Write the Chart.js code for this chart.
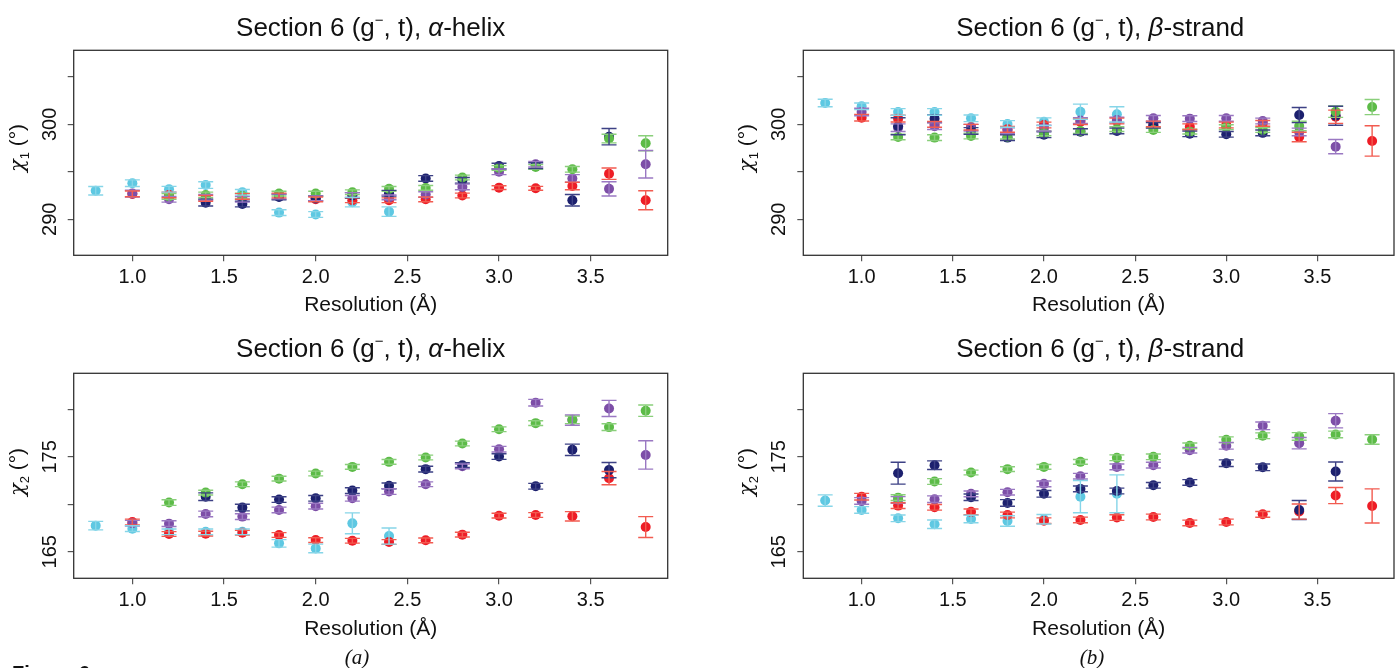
<!DOCTYPE html>
<html>
<head>
<meta charset="utf-8">
<script src="https://cdn.jsdelivr.net/npm/chart.js@4.4.1/dist/chart.umd.min.js"></script>
<style>
  html, body { margin:0; padding:0; background:#fff; }
  body { width:1399px; height:668px; position:relative; overflow:hidden; font-family:'Liberation Sans', Arial, sans-serif; color:#111; }
  .panel { position:absolute; }
  .ptitle { position:absolute; text-align:center; font-size:26px; line-height:30px; white-space:nowrap; }
  .ptitle sup { font-size:15px; vertical-align:0; position:relative; top:-11px; }
  .ylab { position:absolute; font-size:21px; white-space:nowrap; transform:translate(-50%,-50%) rotate(-90deg); line-height:24px; }
  .ylab i { font-family:'DejaVu Serif', 'Liberation Serif', serif; font-size:21px; }
  .ylab sub { font-size:13px; vertical-align:0; position:relative; top:5px; }
  .cap { position:absolute; font-family:'Liberation Serif', 'Times New Roman', serif; font-size:21px; line-height:24px; transform:translate(-50%,-50%); }
  .fig { position:absolute; left:12px; top:663px; font-weight:bold; font-size:20px; line-height:20px; }
</style>
</head>
<body>
<script>
// ---------------- data ----------------
const resolution = [0.8, 1.0, 1.2, 1.4, 1.6, 1.8, 2.0, 2.2, 2.4, 2.6, 2.8, 3.0, 3.2, 3.4, 3.6, 3.8];
const xTickValues = [1.0, 1.5, 2.0, 2.5, 3.0, 3.5];
const chi1TickValues = [290, 295, 300, 305];
const chi1TickLabels = [290, 300];
const chi2TickValues = [165, 170, 175, 180];
const chi2TickLabels = [165, 175];
const seriesNames = ['green', 'navy', 'purple', 'red', 'cyan'];

// alpha-helix, chi1
const helixChi1Cyan   = [293.0, 293.8, 293.16, 293.6, 292.84, 290.7, 290.5, 291.8, 290.8, null, null, null, null, null, null, null];
const helixChi1Red    = [null, 292.67, 292.56, 292.2, 292.4, 292.5, 292.1, 292.0, 292.0, 292.1, 292.5, 293.33, 293.26, 293.5, 294.8, 292.0];
const helixChi1Purple = [null, 292.7, 292.1, 292.3, 292.1, 292.4, 292.2, 292.55, 292.3, 292.6, 293.4, 295.0, 295.8, 294.3, 293.2, 295.8];
const helixChi1Navy   = [null, null, null, 291.75, 291.6, 292.35, 292.2, 292.5, 292.74, 294.3, 294.1, 295.6, 295.65, 292.0, 298.7, null];
const helixChi1Green  = [null, null, 292.4, 292.56, 292.45, 292.7, 292.7, 292.84, 293.2, 293.3, 294.4, 295.4, 295.5, 295.26, 298.5, 298.0];
const helixChi1CyanErr   = [0.45, 0.35, 0.3, 0.35, 0.3, 0.3, 0.3, 0.5, 0.5, null, null, null, null, null, null, null];
const helixChi1RedErr    = [null, 0.3, 0.3, 0.3, 0.3, 0.25, 0.25, 0.25, 0.25, 0.25, 0.25, 0.2, 0.2, 0.4, 0.6, 1.0];
const helixChi1PurpleErr = [null, 0.35, 0.3, 0.3, 0.3, 0.25, 0.25, 0.25, 0.25, 0.3, 0.3, 0.3, 0.3, 0.4, 0.75, 1.45];
const helixChi1NavyErr   = [null, null, null, 0.35, 0.3, 0.3, 0.25, 0.3, 0.3, 0.3, 0.3, 0.3, 0.3, 0.6, 0.86, null];
const helixChi1GreenErr  = [null, null, 0.3, 0.3, 0.3, 0.25, 0.25, 0.25, 0.25, 0.25, 0.25, 0.25, 0.25, 0.3, 0.45, 0.8];

// beta-strand, chi1
const strandChi1Cyan   = [302.25, 301.9, 301.3, 301.3, 300.63, 300.04, 300.28, 301.33, 301.05, null, null, null, null, null, null, null];
const strandChi1Red    = [null, 300.7, 300.6, 300.0, 299.7, 299.47, 299.93, 300.28, 300.35, 300.04, 299.75, 299.93, 300.1, 298.67, 300.8, 298.25];
const strandChi1Purple = [null, 301.3, 299.65, 299.8, 299.65, 299.33, 299.6, 300.4, 300.45, 300.63, 300.6, 300.63, 300.35, 299.2, 297.65, null];
const strandChi1Navy   = [null, null, 299.8, 300.6, 299.3, 298.6, 298.9, 299.23, 299.3, 299.9, 299.0, 298.95, 299.1, 300.98, 300.9, null];
const strandChi1Green  = [null, null, 298.67, 298.6, 298.77, 298.7, 299.05, 299.3, 299.5, 299.4, 299.23, 299.7, 299.4, 299.82, 301.33, 301.82];
const strandChi1CyanErr   = [0.4, 0.35, 0.35, 0.35, 0.35, 0.35, 0.4, 0.8, 0.8, null, null, null, null, null, null, null];
const strandChi1RedErr    = [null, 0.35, 0.35, 0.3, 0.3, 0.3, 0.3, 0.3, 0.3, 0.3, 0.3, 0.3, 0.3, 0.5, 0.7, 1.6];
const strandChi1PurpleErr = [null, 0.4, 0.4, 0.35, 0.35, 0.3, 0.3, 0.3, 0.3, 0.3, 0.3, 0.3, 0.3, 0.4, 0.75, null];
const strandChi1NavyErr   = [null, null, 0.9, 0.4, 0.35, 0.3, 0.3, 0.3, 0.3, 0.3, 0.3, 0.3, 0.3, 0.8, 1.0, null];
const strandChi1GreenErr  = [null, null, 0.3, 0.3, 0.3, 0.25, 0.25, 0.25, 0.25, 0.25, 0.25, 0.25, 0.25, 0.5, 0.6, 0.8];

// alpha-helix, chi2
const helixChi2Cyan   = [167.75, 167.43, 167.1, 167.1, 167.1, 165.88, 165.35, 167.99, 166.65, null, null, null, null, null, null, null];
const helixChi2Red    = [null, 168.13, 166.87, 166.9, 167.0, 166.76, 166.23, 166.16, 166.02, 166.2, 166.8, 168.8, 168.87, 168.73, 172.75, 167.6];
const helixChi2Purple = [null, 168.0, 167.96, 168.98, 168.7, 169.4, 169.8, 170.63, 171.34, 172.11, 174.0, 175.8, 180.7, 178.87, 180.1, 175.2];
const helixChi2Navy   = [null, null, null, 170.8, 169.65, 170.5, 170.63, 171.44, 171.94, 173.7, 174.12, 175.03, 171.9, 175.74, 173.6, null];
const helixChi2Green  = [null, null, 170.18, 171.23, 172.11, 172.7, 173.24, 173.94, 174.47, 174.93, 176.4, 177.9, 178.55, 178.9, 178.13, 179.86];
const helixChi2CyanErr   = [0.45, 0.3, 0.3, 0.3, 0.3, 0.4, 0.45, 1.1, 0.85, null, null, null, null, null, null, null];
const helixChi2RedErr    = [null, 0.3, 0.25, 0.25, 0.25, 0.25, 0.25, 0.25, 0.25, 0.25, 0.25, 0.25, 0.25, 0.5, 0.7, 1.1];
const helixChi2PurpleErr = [null, 0.3, 0.3, 0.3, 0.3, 0.3, 0.3, 0.3, 0.3, 0.25, 0.25, 0.3, 0.35, 0.55, 0.85, 1.5];
const helixChi2NavyErr   = [null, null, null, 0.4, 0.35, 0.3, 0.3, 0.3, 0.3, 0.3, 0.25, 0.3, 0.3, 0.6, 0.8, null];
const helixChi2GreenErr  = [null, null, 0.3, 0.25, 0.25, 0.25, 0.25, 0.25, 0.25, 0.25, 0.25, 0.25, 0.25, 0.4, 0.35, 0.6];

// beta-strand, chi2
const strandChi2Cyan   = [170.39, 169.4, 168.52, 167.89, 168.45, 168.24, 168.42, 170.8, 171.1, null, null, null, null, null, null, null];
const strandChi2Red    = [null, 170.8, 169.86, 169.68, 169.2, 168.87, 168.27, 168.35, 168.6, 168.66, 168.03, 168.13, 168.94, 169.23, 170.92, 169.82];
const strandChi2Purple = [null, 170.35, 170.46, 170.53, 171.1, 171.27, 172.15, 172.96, 173.94, 174.12, 175.7, 176.16, 178.27, 176.44, 178.8, null];
const strandChi2Navy   = [null, null, 173.27, 174.12, 170.74, 170.14, 171.1, 171.62, 171.4, 172.0, 172.3, 174.33, 173.9, 169.4, 173.45, null];
const strandChi2Green  = [null, null, 170.7, 172.4, 173.35, 173.7, 173.94, 174.47, 174.9, 175.0, 176.16, 176.8, 177.22, 177.15, 177.36, 176.83];
const strandChi2CyanErr   = [0.6, 0.35, 0.35, 0.45, 0.4, 0.55, 0.5, 1.7, 2.0, null, null, null, null, null, null, null];
const strandChi2RedErr    = [null, 0.35, 0.3, 0.3, 0.3, 0.3, 0.3, 0.3, 0.3, 0.3, 0.3, 0.3, 0.3, 0.8, 0.85, 1.8];
const strandChi2PurpleErr = [null, 0.35, 0.35, 0.35, 0.3, 0.3, 0.3, 0.3, 0.3, 0.3, 0.3, 0.35, 0.4, 0.6, 0.75, null];
const strandChi2NavyErr   = [null, null, 1.15, 0.45, 0.35, 0.35, 0.35, 0.3, 0.3, 0.3, 0.3, 0.35, 0.35, 1.0, 1.0, null];
const strandChi2GreenErr  = [null, null, 0.3, 0.3, 0.25, 0.25, 0.25, 0.25, 0.3, 0.3, 0.3, 0.3, 0.3, 0.4, 0.35, 0.5];

// ---------------- styling ----------------
const FONT = "'Liberation Sans', Arial, sans-serif";
const pointColors = { green:'#5CBB47', navy:'#1C206E', purple:'#7D4EA7', red:'#EE1D26', cyan:'#5EC8E2' };
const barColors   = { green:'#8ACF7B', navy:'#3D4185', purple:'#9A78C2', red:'#F25B50', cyan:'#86D5E8' };

const panels = [
  { id:'tl', left:0,   top:0,   w:700, h:330, pad:{top:50.3, right:32.3}, L:73.7,  B:74.7, titleB:12,
    ymin:286.2, ymax:307.8, yticks:chi1TickValues, ylabels:chi1TickLabels,
    series:{ green:[helixChi1Green,helixChi1GreenErr], navy:[helixChi1Navy,helixChi1NavyErr], purple:[helixChi1Purple,helixChi1PurpleErr], red:[helixChi1Red,helixChi1RedErr], cyan:[helixChi1Cyan,helixChi1CyanErr] } },
  { id:'tr', left:700, top:0,   w:699, h:330, pad:{top:50.3, right:1.7},  L:103.3, B:74.7, titleB:12,
    ymin:286.2, ymax:307.8, yticks:chi1TickValues, ylabels:chi1TickLabels,
    series:{ green:[strandChi1Green,strandChi1GreenErr], navy:[strandChi1Navy,strandChi1NavyErr], purple:[strandChi1Purple,strandChi1PurpleErr], red:[strandChi1Red,strandChi1RedErr], cyan:[strandChi1Cyan,strandChi1CyanErr] } },
  { id:'bl', left:0,   top:330, w:700, h:338, pad:{top:43.3, right:32.3}, L:73.7,  B:89.7, titleB:26.5,
    ymin:162.2, ymax:183.8, yticks:chi2TickValues, ylabels:chi2TickLabels,
    series:{ green:[helixChi2Green,helixChi2GreenErr], navy:[helixChi2Navy,helixChi2NavyErr], purple:[helixChi2Purple,helixChi2PurpleErr], red:[helixChi2Red,helixChi2RedErr], cyan:[helixChi2Cyan,helixChi2CyanErr] } },
  { id:'br', left:700, top:330, w:699, h:338, pad:{top:43.3, right:1.7},  L:103.3, B:89.7, titleB:26.5,
    ymin:162.2, ymax:183.8, yticks:chi2TickValues, ylabels:chi2TickLabels,
    series:{ green:[strandChi2Green,strandChi2GreenErr], navy:[strandChi2Navy,strandChi2NavyErr], purple:[strandChi2Purple,strandChi2PurpleErr], red:[strandChi2Red,strandChi2RedErr], cyan:[strandChi2Cyan,strandChi2CyanErr] } }
];

// error bars drawn through the scales
const errorBarPlugin = {
  id:'errorBars',
  afterDatasetsDraw(chart) {
    const ctx = chart.ctx, xs = chart.scales.x, ys = chart.scales.y;
    ctx.save();
    chart.data.datasets.forEach(ds => {
      ctx.strokeStyle = ds.barColor;
      ctx.lineWidth = 1.4;
      ds.data.forEach((p, i) => {
        const e = ds.errors[i];
        if (p.y == null || e == null) return;
        const px = xs.getPixelForValue(p.x);
        const y1 = ys.getPixelForValue(p.y - e), y2 = ys.getPixelForValue(p.y + e);
        ctx.beginPath();
        ctx.moveTo(px, y1); ctx.lineTo(px, y2);
        ctx.moveTo(px - 7.5, y1); ctx.lineTo(px + 7.5, y1);
        ctx.moveTo(px - 7.5, y2); ctx.lineTo(px + 7.5, y2);
        ctx.stroke();
      });
    });
    ctx.restore();
  }
};

// box + rotated y tick labels
const framePlugin = {
  id:'frame',
  afterDraw(chart, args, opts) {
    const {ctx, chartArea:a} = chart;
    ctx.save();
    ctx.strokeStyle = '#333';
    ctx.lineWidth = 1.3;
    ctx.strokeRect(a.left, a.top, a.right - a.left, a.bottom - a.top);
    ctx.fillStyle = '#111';
    ctx.font = '20px ' + FONT;
    ctx.textAlign = 'center';
    ctx.textBaseline = 'middle';
    opts.labels.forEach(v => {
      const py = chart.scales.y.getPixelForValue(v);
      ctx.save();
      ctx.translate(a.left - 23.5, py);
      ctx.rotate(-Math.PI / 2);
      ctx.fillText(String(v), 0, 0);
      ctx.restore();
    });
    ctx.restore();
  }
};

panels.forEach(p => {
  const div = document.createElement('div');
  div.className = 'panel';
  div.style.cssText = `left:${p.left}px;top:${p.top}px;width:${p.w}px;height:${p.h}px;`;
  const cv = document.createElement('canvas');
  div.appendChild(cv);
  document.body.appendChild(div);

  const datasets = seriesNames.map(name => ({
    label: name,
    data: resolution.map((x, i) => ({ x: x, y: p.series[name][0][i] })),
    errors: p.series[name][1],
    barColor: barColors[name],
    backgroundColor: pointColors[name],
    borderWidth: 0,
    pointRadius: 5,
    pointHoverRadius: 5,
    showLine: false
  }));

  const gridOpts = { display:true, drawOnChartArea:false, drawTicks:true, tickLength:6, color:'#555', lineWidth:1.2 };

  new Chart(cv, {
    type:'scatter',
    data:{ datasets },
    plugins:[errorBarPlugin, framePlugin],
    options:{
      responsive:true, maintainAspectRatio:false, animation:false,
      layout:{ padding:{ top:p.pad.top, right:p.pad.right, left:0, bottom:0 } },
      plugins:{ legend:{display:false}, tooltip:{enabled:false}, frame:{ labels:p.ylabels } },
      scales:{
        x:{
          type:'linear', min:0.68, max:3.92,
          afterBuildTicks: s => { s.ticks = xTickValues.map(v => ({value:v})); },
          afterFit: s => { s.height = p.B; },
          grid: gridOpts, border:{display:false},
          ticks:{ font:{size:20, family:FONT}, color:'#111', padding:4, maxRotation:0, minRotation:0, callback: v => Number(v).toFixed(1) },
          title:{ display:true, text:'Resolution (Å)', font:{size:21, family:FONT}, color:'#111', padding:{top:0, bottom:p.titleB} }
        },
        y:{
          type:'linear', min:p.ymin, max:p.ymax,
          afterBuildTicks: s => { s.ticks = p.yticks.map(v => ({value:v})); },
          afterFit: s => { s.width = p.L; },
          grid: gridOpts, border:{display:false},
          ticks:{ display:false }
        }
      }
    }
  });
});

// HTML texts: panel titles, y-axis titles, captions
const titles = [
  { cx:370.7,  cy:26.7,  html:'Section 6 (g<sup>−</sup>, t), <i>α</i>-helix' },
  { cx:1100.3, cy:26.7,  html:'Section 6 (g<sup>−</sup>, t), <i>β</i>-strand' },
  { cx:370.7,  cy:348.3, html:'Section 6 (g<sup>−</sup>, t), <i>α</i>-helix' },
  { cx:1100.3, cy:348.3, html:'Section 6 (g<sup>−</sup>, t), <i>β</i>-strand' }
];
titles.forEach(t => {
  const d = document.createElement('div');
  d.className = 'ptitle';
  d.style.left = (t.cx - 300) + 'px';
  d.style.width = '600px';
  d.style.top = (t.cy - 15) + 'px';
  d.innerHTML = t.html;
  document.body.appendChild(d);
});
const ylabs = [
  { cx:18,  cy:148, html:'<i>χ</i><sub>1</sub> (°)' },
  { cx:747, cy:148, html:'<i>χ</i><sub>1</sub> (°)' },
  { cx:18,  cy:472, html:'<i>χ</i><sub>2</sub> (°)' },
  { cx:747, cy:472, html:'<i>χ</i><sub>2</sub> (°)' }
];
ylabs.forEach(t => {
  const d = document.createElement('div');
  d.className = 'ylab';
  d.style.left = t.cx + 'px';
  d.style.top = t.cy + 'px';
  d.innerHTML = t.html;
  document.body.appendChild(d);
});
[{cx:357, cy:657, html:'<i>(a)</i>'}, {cx:1092, cy:657, html:'<i>(b)</i>'}].forEach(t => {
  const d = document.createElement('div');
  d.className = 'cap';
  d.style.left = t.cx + 'px';
  d.style.top = t.cy + 'px';
  d.innerHTML = t.html;
  document.body.appendChild(d);
});
const fig = document.createElement('div');
fig.className = 'fig';
fig.textContent = 'Figure 6';
document.body.appendChild(fig);
</script>
</body>
</html>
